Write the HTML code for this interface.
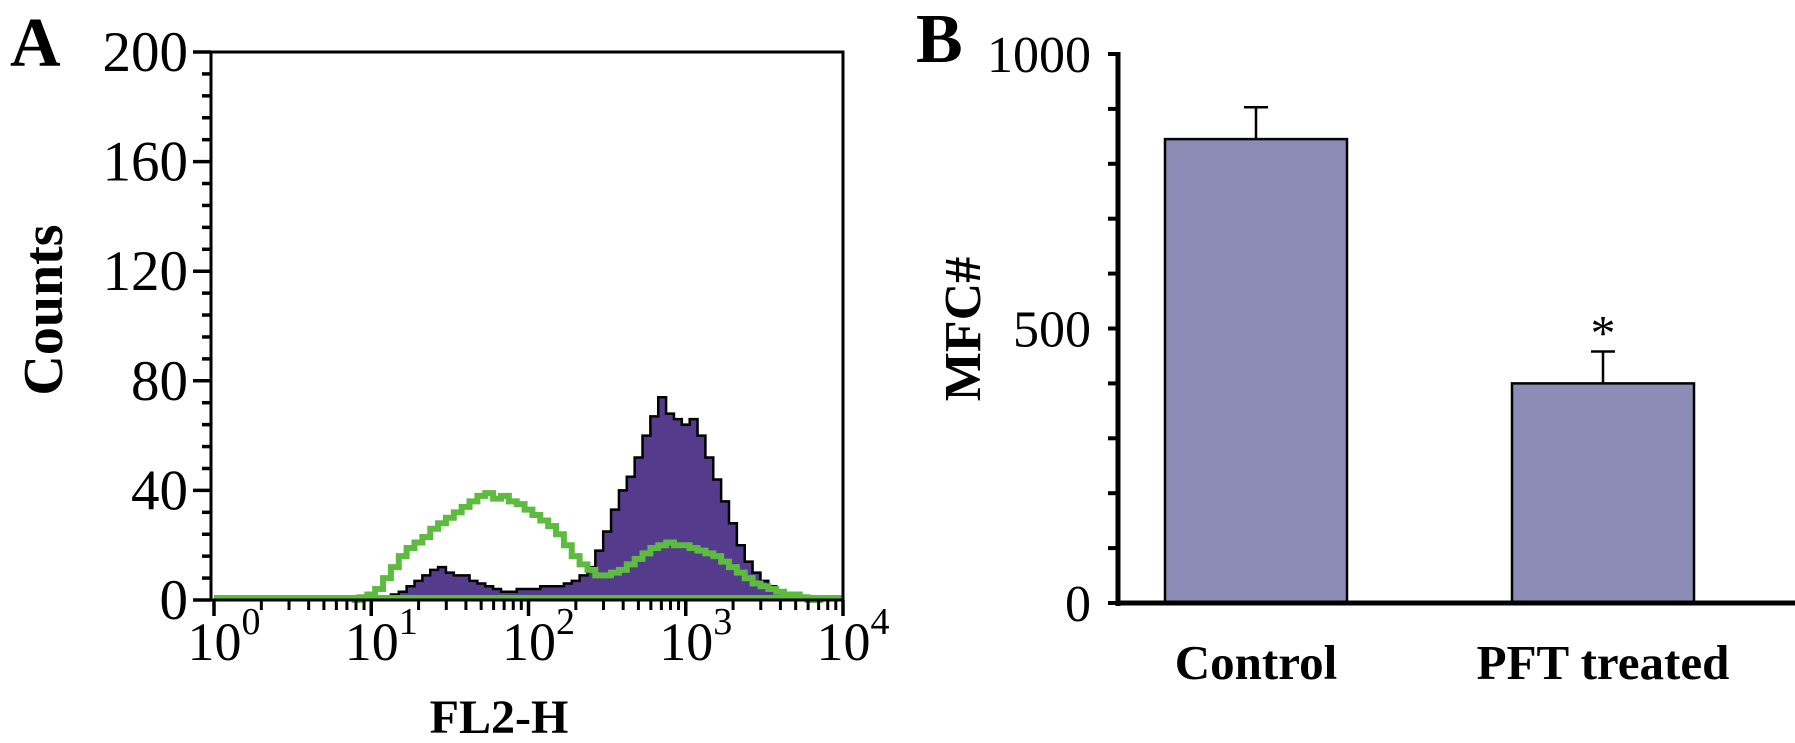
<!DOCTYPE html>
<html><head><meta charset="utf-8"><style>
html,body{margin:0;padding:0;background:#fff;}
svg{display:block;font-family:"Liberation Serif",serif;}
</style></head><body>
<svg id="fig" width="1795" height="743" viewBox="0 0 1795 743" xmlns="http://www.w3.org/2000/svg">
<g id="panelA"></g>
<g id="panelB"></g>
</svg>
<script>
// ---- Panel A data ----
const binLogs = [0.90,0.95,1.00,1.05,1.10,1.15,1.20,1.25,1.30,1.35,1.40,1.45,1.50,1.55,1.60,1.65,1.70,1.75,1.80,1.85,1.90,1.95,2.00,2.05,2.10,2.15,2.20,2.25,2.30,2.35,2.40,2.45,2.50,2.55,2.60,2.65,2.70,2.75,2.80,2.85,2.90,2.95,3.00,3.05,3.10,3.15,3.20,3.25,3.30,3.35,3.40,3.45,3.50,3.55,3.60,3.65,3.70,3.75,3.80,3.85];
const greenCounts = [0,1,2,4,8,12,16,19,21,23,26,28,30,32,34,36,38,39,37,38,36,35,33,31,29,27,24,20,16,13,11,9,9,10,11,13,15,17,19,20,21,20,20,19,18,17,16,14,12,10,8,6,5,4,3,2,2,1,0,0];
const purpleCounts = [0,0,0,0,1,2,3,5,7,9,11,12,10,9,9,7,6,5,4,3,3,4,4,4,5,5,5,6,7,9,12,18,25,33,40,45,52,60,67,74,68,66,64,66,60,52,44,36,28,20,14,10,7,5,3,2,1,1,0,0];
const yTicksA = [0,40,80,120,160,200];
const xDecadesA = [0,1,2,3,4];
// ---- Panel B data ----
const groups = ["Control","PFT treated"];
const means = [845,400];
const errors = [58,58];
const yTicksB = [0,500,1000];

const NS="http://www.w3.org/2000/svg";
function mk(tag,attrs,parent){const e=document.createElementNS(NS,tag);for(const k in attrs)e.setAttribute(k,attrs[k]);parent.appendChild(e);return e;}

// ---- Panel A ----
const A=document.getElementById('panelA');
const ax0=214, ax1=843, ayTop=52, ayBot=600;
const xA=l=>ax0+(ax1-ax0)*l/4;
const yA=v=>ayBot-(ayBot-ayTop)*v/200;
const half=0.025;
function stepPath(counts){
  let d='M'+xA(binLogs[0]-half)+','+yA(0);
  for(let i=0;i<binLogs.length;i++){
    d+=' L'+xA(binLogs[i]-half)+','+yA(counts[i])+' L'+xA(binLogs[i]+half)+','+yA(counts[i]);
  }
  d+=' L'+xA(binLogs[binLogs.length-1]+half)+','+yA(0);
  return d;
}
let p=mk('path',{d:stepPath(purpleCounts)+' Z',fill:'#553b8c',stroke:'#000','stroke-width':2.5},A);


let gbase=mk('line',{x1:ax0,y1:yA(0)-2,x2:ax1,y2:yA(0)-2,stroke:'#5dbb3f','stroke-width':6},A);


let g=mk('path',{d:stepPath(greenCounts),fill:'none',stroke:'#5dbb3f','stroke-width':6},A);


let frame=mk('rect',{x:211,y:ayTop,width:ax1-211,height:ayBot-ayTop,fill:'none',stroke:'#000','stroke-width':3},A);


for(let v=0;v<=200;v+=8){
  const major=v%40===0;
  let t=mk('line',{x1:major?193:202,y1:yA(v),x2:211,y2:yA(v),stroke:'#000','stroke-width':3.5},A);
  
  
}
yTicksA.forEach(v=>{
  let t=mk('text',{x:188,y:yA(v)+19,'text-anchor':'end','font-size':57},A);
  t.textContent=v;
  
  
});
for(let d=0;d<4;d++){
  for(let m=2;m<=9;m++){
    let t=mk('line',{x1:xA(d+Math.log10(m)),y1:ayBot,x2:xA(d+Math.log10(m)),y2:ayBot+10,stroke:'#000','stroke-width':3},A);
    
    
  }
}
xDecadesA.forEach(d=>{
  let t=mk('line',{x1:xA(d),y1:ayBot,x2:xA(d),y2:ayBot+16,stroke:'#000','stroke-width':3.5},A);
  
  
  let tx=mk('text',{x:xA(d)+10,y:660,'text-anchor':'middle','font-size':54},A);
  
  
  tx.textContent='10';
  let s=mk('tspan',{dy:-26,'font-size':38},tx);
  s.textContent=d;
});
let xt=mk('text',{x:499,y:733,'text-anchor':'middle','font-size':48,'font-weight':'bold'},A);
xt.textContent='FL2-H';


let yt=mk('text',{x:0,y:0,'text-anchor':'middle','font-size':56,'font-weight':'bold',transform:'translate(62,310) rotate(-90)'},A);
yt.textContent='Counts';


let la=mk('text',{x:10,y:66,'font-size':70,'font-weight':'bold'},A);
la.textContent='A';



// ---- Panel B ----
const B=document.getElementById('panelB');
const bx0=1118, byTop=54, byBot=603;
const yB=v=>byBot-(byBot-byTop)*v/1000;
const barLeft=[1165,1512], barW=182;
groups.forEach((name,i)=>{
  const x=barLeft[i], top=yB(means[i]);
  let r=mk('rect',{x:x,y:top,width:barW,height:byBot-top,fill:'#8b8db6',stroke:'#000','stroke-width':2.5},B);
  
  
  const cx=x+barW/2, et=yB(means[i]+errors[i]);
  let e=mk('path',{d:'M'+cx+','+top+' L'+cx+','+et+' M'+(cx-12)+','+et+' L'+(cx+12)+','+et,stroke:'#000','stroke-width':2.5,fill:'none'},B);
  
  
  let l=mk('text',{x:cx,y:679,'text-anchor':'middle','font-size':49,'font-weight':'bold'},B);
  l.textContent=name;
  
  
});
let ast=mk('text',{x:barLeft[1]+barW/2,y:yB(means[1]+errors[1])-2,'text-anchor':'middle','font-size':50},B);
ast.textContent='*';


let axy=mk('line',{x1:bx0,y1:byTop-2,x2:bx0,y2:byBot+3,stroke:'#000','stroke-width':5},B);


let axx=mk('line',{x1:bx0-2,y1:byBot,x2:1795,y2:byBot,stroke:'#000','stroke-width':5},B);


for(let v=0;v<=1000;v+=100){
  let t=mk('line',{x1:bx0-10,y1:yB(v),x2:bx0,y2:yB(v),stroke:'#000','stroke-width':4},B);
  
  
}
yTicksB.forEach(v=>{
  let t=mk('text',{x:1091,y:yB(v)+18,'text-anchor':'end','font-size':52},B);
  t.textContent=v;
  
  
});
let ytb=mk('text',{x:0,y:0,'text-anchor':'middle','font-size':52,'font-weight':'bold',transform:'translate(980,329) rotate(-90)'},B);
ytb.textContent='MFC#';


let lb=mk('text',{x:916,y:62,'font-size':70,'font-weight':'bold'},B);
lb.textContent='B';


</script>
</body></html>
